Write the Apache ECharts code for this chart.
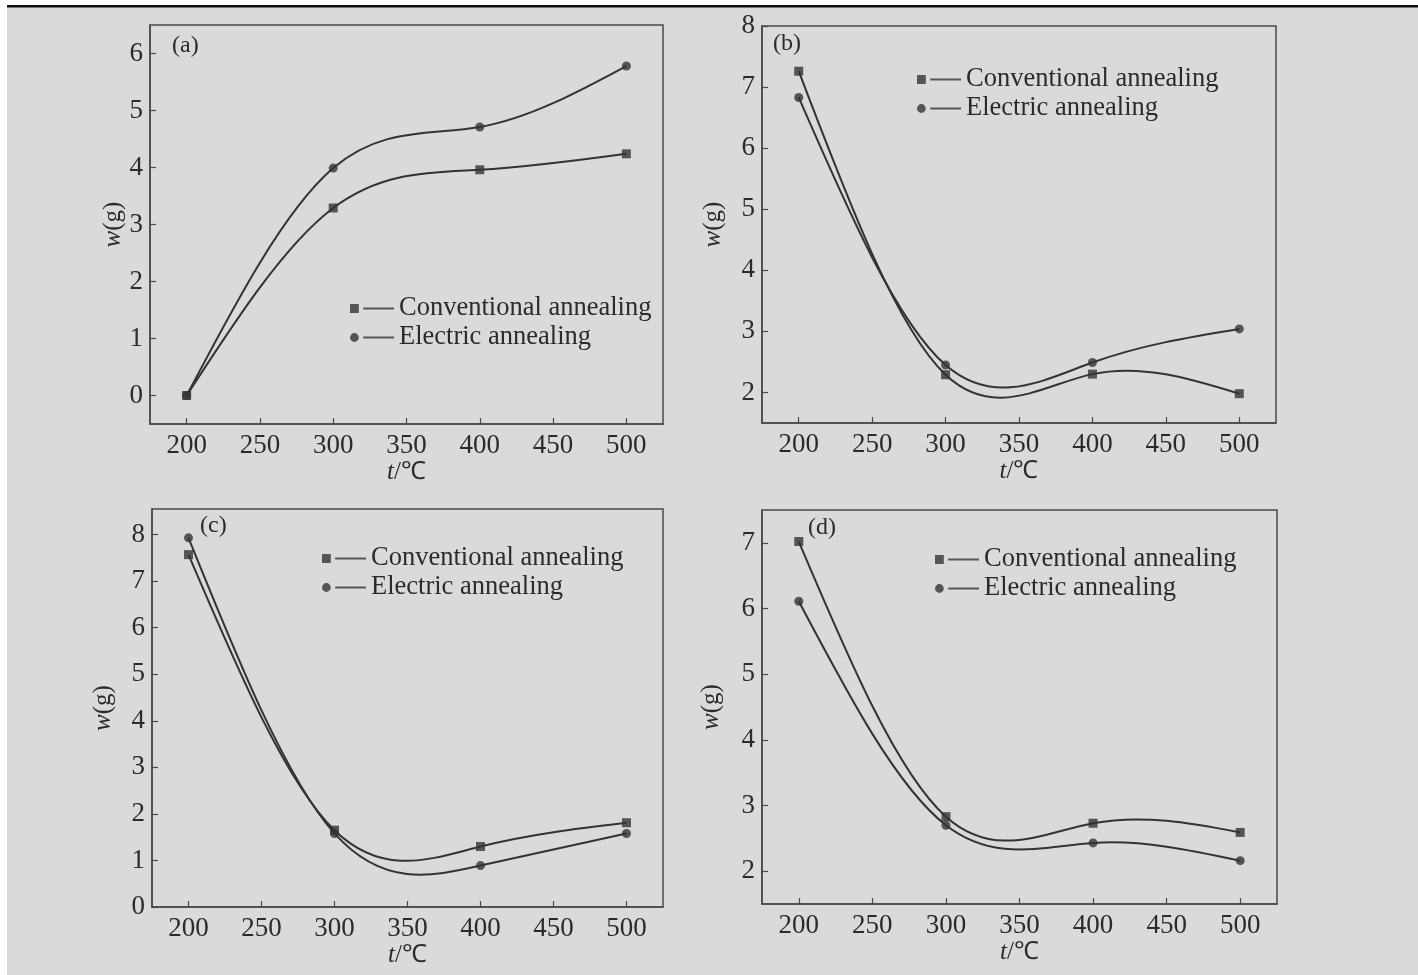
<!DOCTYPE html>
<html>
<head>
<meta charset="utf-8">
<script src="https://cdn.jsdelivr.net/npm/echarts@6/dist/echarts.min.js"></script>
<style>
html,body{margin:0;padding:0;background:#fff;}
#chart{width:1418px;height:975px;}
</style>
</head>
<body>
<div id="chart"></div>
<script>
// ---- data ----
const temps = [200, 300, 400, 500];
const xTicks = [200, 250, 300, 350, 400, 450, 500];
const seriesNames = ['Conventional annealing', 'Electric annealing'];
const panelLabels = ['(a)', '(b)', '(c)', '(d)'];

const aConv = [0, 3.29, 3.96, 4.24];
const aElec = [0, 3.99, 4.71, 5.78];
const bConv = [7.26, 2.29, 2.30, 1.98];
const bElec = [6.83, 2.45, 2.49, 3.04];
const cConv = [7.57, 1.65, 1.30, 1.81];
const cElec = [7.93, 1.58, 0.89, 1.58];
const dConv = [7.02, 2.83, 2.73, 2.59];
const dElec = [6.11, 2.70, 2.43, 2.16];

const aYTicks = [0, 1, 2, 3, 4, 5, 6];
const bYTicks = [2, 3, 4, 5, 6, 7, 8];
const cYTicks = [0, 1, 2, 3, 4, 5, 6, 7, 8];
const dYTicks = [2, 3, 4, 5, 6, 7];

// ---- layout / style ----
const FONT = '"Liberation Serif", "Times New Roman", serif';
const INK = '#2b2b2b';
const AXIS = '#4a4a4a';
const LINE = '#333333';

const panels = [
  { conv: aConv, elec: aElec, yTicks: aYTicks, ymin: -0.5, ymax: 6.5,
    grid: { left: 150, top: 25, width: 513, height: 399 }, yGap: 24,
    legend: { left: 350, top: 295 }, label: [172, 48] },
  { conv: bConv, elec: bElec, yTicks: bYTicks, ymin: 1.5, ymax: 8.0,
    grid: { left: 762, top: 26, width: 514, height: 397 }, yGap: 36,
    legend: { left: 917, top: 66 }, label: [773, 46] },
  { conv: cConv, elec: cElec, yTicks: cYTicks, ymin: 0, ymax: 8.55,
    grid: { left: 152, top: 509, width: 511, height: 398 }, yGap: 36,
    legend: { left: 322, top: 545 }, label: [200, 528] },
  { conv: dConv, elec: dElec, yTicks: dYTicks, ymin: 1.5, ymax: 7.5,
    grid: { left: 762, top: 510, width: 515, height: 394 }, yGap: 38,
    legend: { left: 935, top: 546 }, label: [808, 530] }
];

// natural cubic spline: node slopes (curve shape only, data unchanged)
function splineSlopes(xs, ys) {
  const n = xs.length;
  const h = [];
  for (let i = 0; i < n - 1; i++) h.push(xs[i + 1] - xs[i]);
  const M = new Array(n).fill(0);
  if (n > 2) {
    const a = [], b = [], c = [], r = [];
    for (let i = 1; i < n - 1; i++) {
      a.push(h[i - 1]); b.push(2 * (h[i - 1] + h[i])); c.push(h[i]);
      r.push(6 * ((ys[i + 1] - ys[i]) / h[i] - (ys[i] - ys[i - 1]) / h[i - 1]));
    }
    const m = b.length;
    for (let i = 1; i < m; i++) {
      const w = a[i] / b[i - 1];
      b[i] -= w * c[i - 1];
      r[i] -= w * r[i - 1];
    }
    const sol = new Array(m);
    sol[m - 1] = r[m - 1] / b[m - 1];
    for (let i = m - 2; i >= 0; i--) sol[i] = (r[i] - c[i] * sol[i + 1]) / b[i];
    for (let i = 0; i < m; i++) M[i + 1] = sol[i];
  }
  const d = [];
  for (let i = 0; i < n - 1; i++) d.push((ys[i + 1] - ys[i]) / h[i] - h[i] * (2 * M[i] + M[i + 1]) / 6);
  const k = n - 2;
  d.push((ys[k + 1] - ys[k]) / h[k] + h[k] * (M[k] + 2 * M[k + 1]) / 6);
  return d;
}

function curveSeries(i, ys) {
  const slopes = splineSlopes(temps, ys);
  return {
    type: 'custom', xAxisIndex: i, yAxisIndex: i, z: 2, silent: true,
    data: temps.map((t, k) => [t, ys[k]]),
    renderItem: function (params, api) {
      const k = params.dataIndex;
      if (k >= temps.length - 1) return null;
      const x0 = temps[k], x1 = temps[k + 1], h = x1 - x0;
      const p0 = api.coord([x0, ys[k]]);
      const p1 = api.coord([x1, ys[k + 1]]);
      const c0 = api.coord([x0 + h / 3, ys[k] + slopes[k] * h / 3]);
      const c1 = api.coord([x1 - h / 3, ys[k + 1] - slopes[k + 1] * h / 3]);
      return {
        type: 'bezierCurve',
        shape: { x1: p0[0], y1: p0[1], x2: p1[0], y2: p1[1],
                 cpx1: c0[0], cpy1: c0[1], cpx2: c1[0], cpy2: c1[1] },
        style: { stroke: LINE, lineWidth: 2, fill: null }
      };
    }
  };
}

const squareIcon = 'path://M0,0h4v4h-4z M6,1.6h14v0.8h-14z';
const circleIcon = 'path://M0,2a2,2 0 1,0 4,0a2,2 0 1,0 -4,0z M6,1.6h14v0.8h-14z';

const grids = [], xAxes = [], yAxes = [], series = [], legends = [], graphics = [];

panels.forEach((p, i) => {
  grids.push(Object.assign({ show: true, borderColor: AXIS, borderWidth: 1.5, backgroundColor: 'transparent' }, p.grid));
  xAxes.push({
    type: 'value', gridIndex: i, min: 175, max: 525,
    name: '{it|t}/℃', nameLocation: 'middle', nameGap: 35,
    nameTextStyle: { color: INK, fontFamily: FONT, fontSize: 25,
      rich: { it: { fontStyle: 'italic', fontFamily: FONT, fontSize: 25, color: INK } } },
    axisLine: { show: true, onZero: false, lineStyle: { color: AXIS, width: 1.5 } },
    axisTick: { show: true, inside: true, length: 6, customValues: xTicks, lineStyle: { color: AXIS, width: 1.2 } },
    axisLabel: { customValues: xTicks, color: INK, fontFamily: FONT, fontSize: 27, margin: 8 },
    splitLine: { show: false }
  });
  yAxes.push({
    type: 'value', gridIndex: i, min: p.ymin, max: p.ymax,
    name: '{it|w}(g)', nameLocation: 'middle', nameGap: p.yGap,
    nameTextStyle: { color: INK, fontFamily: FONT, fontSize: 25,
      rich: { it: { fontStyle: 'italic', fontFamily: FONT, fontSize: 25, color: INK } } },
    axisLine: { show: true, onZero: false, lineStyle: { color: AXIS, width: 1.5 } },
    axisTick: { show: true, inside: true, length: 6, customValues: p.yTicks, lineStyle: { color: AXIS, width: 1.2 } },
    axisLabel: { customValues: p.yTicks, color: INK, fontFamily: FONT, fontSize: 27, margin: 7 },
    splitLine: { show: false }
  });
  series.push(curveSeries(i, p.conv));
  series.push(curveSeries(i, p.elec));
  series.push({
    name: seriesNames[0], type: 'scatter', xAxisIndex: i, yAxisIndex: i, z: 3,
    data: temps.map((t, k) => [t, p.conv[k]]),
    symbol: 'rect', symbolSize: 9, itemStyle: { color: LINE }
  });
  series.push({
    name: seriesNames[1], type: 'scatter', xAxisIndex: i, yAxisIndex: i, z: 3,
    data: temps.map((t, k) => [t, p.elec[k]]),
    symbol: 'circle', symbolSize: 9, itemStyle: { color: LINE }
  });
  legends.push({
    left: p.legend.left, top: p.legend.top, orient: 'vertical',
    itemWidth: 44, itemHeight: 9, itemGap: 2, padding: 0,
    selectedMode: false,
    data: [
      { name: seriesNames[0], icon: squareIcon, itemStyle: { color: LINE } },
      { name: seriesNames[1], icon: circleIcon, itemStyle: { color: LINE } }
    ],
    textStyle: { color: INK, fontFamily: FONT, fontSize: 26.5, padding: [0, 0, 0, 0] }
  });
  graphics.push({
    type: 'text', left: p.label[0], top: p.label[1] - 14,
    style: { text: panelLabels[i], fill: INK, font: '24px ' + FONT }
  });
});

// scan frame: white strips and the black rule at the top
graphics.unshift(
  { type: 'rect', left: 0, top: 0, shape: { width: 1418, height: 5 }, style: { fill: '#ffffff' } },
  { type: 'rect', left: 0, top: 0, shape: { width: 7, height: 975 }, style: { fill: '#ffffff' } },
  { type: 'rect', left: 7, top: 5, shape: { width: 1411, height: 2.5 }, style: { fill: '#111111' } }
);

const chart = echarts.init(document.getElementById('chart'), null, { renderer: 'canvas' });
chart.setOption({
  backgroundColor: '#dadada',
  animation: false,
  grid: grids,
  xAxis: xAxes,
  yAxis: yAxes,
  legend: legends,
  series: series,
  graphic: graphics
});
</script>
</body>
</html>
